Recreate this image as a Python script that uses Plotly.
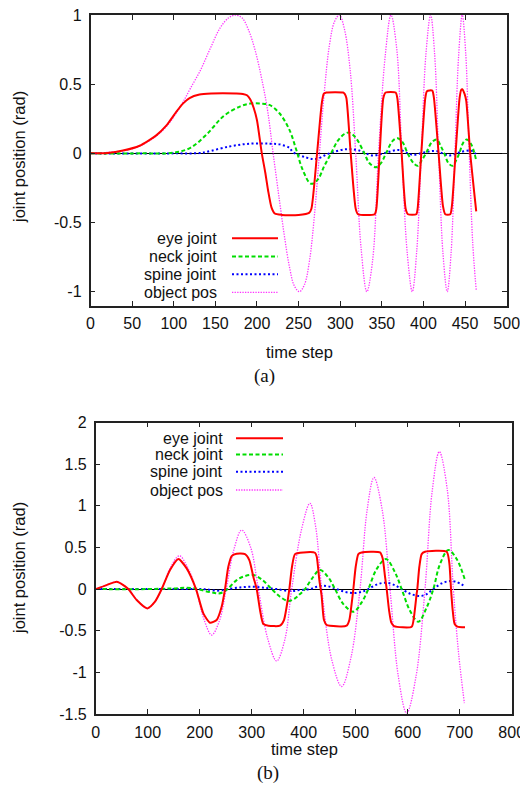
import plotly.graph_objects as go

# ---- panel (a) ----
t_eye_a = [0, 20, 39, 59, 79, 91, 103, 111, 119, 131, 145, 159, 175, 183, 188, 192, 196, 200, 205.8, 210, 213.4, 217.4, 221.4, 230, 239.4,
           250, 262.6, 265.4, 272.2, 277.8, 280.2, 283.4, 303.4, 305.4, 307.4, 312.6, 318.6, 321.4, 341.4,
           343.4, 347.4, 351.8, 354.6, 366.6, 368.6, 373.8, 378.6, 381.4, 391.4, 393, 397.4, 402.2, 404.2,
           410.6, 412.6, 418.2, 423.4, 426.2, 432.2, 434.2, 438.6, 443.4, 445.4, 446.6, 449.4, 451.4, 456.2, 463.4]
eye_a = [0, 0.003, 0.02, 0.055, 0.13, 0.2, 0.3, 0.36, 0.4, 0.425, 0.433, 0.435, 0.433, 0.43, 0.42, 0.39, 0.33, 0.24, 0.0, -0.14, -0.27, -0.39, -0.435, -0.445, -0.447,
         -0.445, -0.43, -0.4, 0.0, 0.36, 0.43, 0.44, 0.44, 0.43, 0.4, 0.0, -0.4, -0.44, -0.44,
         -0.4, 0.0, 0.4, 0.44, 0.44, 0.4, 0.0, -0.4, -0.44, -0.44, -0.4, 0.0, 0.4, 0.45,
         0.454, 0.4, 0.0, -0.38, -0.44, -0.44, -0.38, 0.0, 0.4, 0.46, 0.464, 0.43, 0.38, 0.0, -0.42]

t_neck_a = [0, 60, 100, 120, 140, 160, 180, 192, 205, 215, 227, 239, 247, 255, 265, 273, 281, 289, 297, 305, 311, 319,
            329, 335, 343, 349, 355, 363, 369, 375, 381, 388, 393, 398, 403, 410, 416, 421, 425, 430, 435, 440,
            443, 448, 452, 457, 463]
neck_a = [0, 0, 0.005, 0.04, 0.14, 0.27, 0.34, 0.36, 0.36, 0.35, 0.29, 0.17, 0.03, -0.12, -0.22, -0.19, -0.09, 0, 0.09, 0.14, 0.15, 0.11,
          0, -0.07, -0.1, -0.07, 0, 0.09, 0.11, 0.08, 0, -0.07, -0.09, -0.05, 0, 0.08, 0.1, 0.05, 0, -0.07, -0.09, -0.04,
          0, 0.08, 0.1, 0.07, -0.04]

t_spine_a = [0, 100, 131, 139, 167, 191, 215, 227, 239, 243, 259, 271, 287, 307, 323, 339, 355, 371, 387, 403, 415,
             431, 445, 457, 463]
spine_a = [0, 0, 0.002, 0.01, 0.05, 0.07, 0.07, 0.065, 0.04, 0.01, -0.03, -0.04, 0, 0.03, 0.02, -0.015, 0.005, 0.025, -0.01, 0.01, 0.017,
           -0.015, 0.01, 0.02, -0.005]

t_obj_a = [0, 40, 60, 80, 92, 104, 112, 120, 132, 144, 156, 166, 174, 182, 190, 198, 206, 213, 219.4, 227, 233, 239, 245, 251,
           257, 263, 269, 275, 281, 287, 293, 299, 305, 312, 318.6, 325, 332, 339, 346, 354, 361, 368, 374, 380.5,
           386.6, 392, 397.4, 403, 408.6, 413.4, 418.2, 423.4, 428.6, 433.2, 437.8, 442.2, 446.6, 450.8, 455, 459.2, 463.4]
obj_a = [0, 0.02, 0.055, 0.13, 0.2, 0.3, 0.38, 0.47, 0.6, 0.76, 0.91, 0.98, 1.0, 0.98, 0.89, 0.74, 0.53, 0.3, 0, -0.34, -0.6, -0.82, -0.96, -1.0,
         -0.95, -0.78, -0.45, 0, 0.45, 0.78, 0.95, 1.0, 0.9, 0.6, 0, -0.68, -1.0, -0.77, 0, 0.7, 1.0, 0.75, 0, -0.72,
         -1.0, -0.7, 0, 0.72, 1.0, 0.72, 0, -0.72, -1.0, -0.72, 0, 0.7, 1.0, 0.72, 0, -0.65, -0.99]

# ---- panel (b) ----
t_eye_b = [0, 21.1, 40.3, 53.1, 62.8, 78.8, 99.3, 114, 126.9, 142.9, 158.9, 174.9, 192.9, 207, 219.8, 232.6, 242.2,
           248.7, 255, 261.5, 271.1, 287.1, 295.4, 303.1, 309.6, 316, 322.4, 332, 354.4, 362.1, 367.2, 372.4,
           377.5, 383.3, 399.3, 421.7, 425, 430.1, 434.6, 439, 444.2, 450.6, 482.6, 487.8, 492.3, 495.5, 500,
           505.1, 511.5, 546.7, 551.9, 556.4, 559.6, 564.1, 568.5, 573.7, 607.6, 612.1, 617.3, 618.5, 622.4,
           626.9, 633.3, 675, 680.1, 683.3, 686.5, 690.3, 695.5, 710.2]
eye_b = [0, 0.048, 0.088, 0.048, 0, -0.132, -0.232, -0.152, 0, 0.228, 0.36, 0.248, 0, -0.292, -0.404, -0.372, -0.212,
         0, 0.268, 0.396, 0.424, 0.42, 0.348, 0.148, 0, -0.252, -0.42, -0.44, -0.44, -0.372, -0.212, 0,
         0.268, 0.42, 0.44, 0.436, 0.39, 0.108, -0.09, -0.372, -0.432, -0.44, -0.44, -0.372, -0.172, 0, 0.268,
         0.42, 0.44, 0.44, 0.368, 0.148, 0, -0.252, -0.404, -0.444, -0.452, -0.332, -0.052, 0, 0.268,
         0.42, 0.448, 0.448, 0.308, 0, -0.252, -0.42, -0.452, -0.46]

t_neck_b = [0, 100, 149.4, 174.9, 194.2, 210.2, 226.2, 235.8, 245.5, 255, 271.1, 287.1, 303.1, 319.2, 338.4, 354.4,
            370.4, 383.3, 392.9, 402.5, 415.3, 431.4, 447.4, 460.2, 476.2, 495.5, 511.5, 524.3, 540.3, 558.3,
            575.6, 588.4, 604.4, 620.5, 636.5, 649.3, 662.1, 678.2, 694.2, 710.2]
neck_b = [0, 0, 0.008, 0.016, 0.004, -0.024, -0.044, -0.052, -0.036, 0.008, 0.108, 0.156, 0.168, 0.116, 0, -0.092,
          -0.144, -0.112, -0.06, 0, 0.12, 0.228, 0.14, 0, -0.18, -0.272, -0.16, 0, 0.24, 0.36,
          0.2, 0, -0.26, -0.392, -0.22, 0, 0.3, 0.468, 0.36, 0.108]

t_spine_b = [0, 200, 213.4, 232.6, 245.5, 255, 277.5, 303.1, 328.7, 348, 373.6, 392.9, 412.1, 424.9, 437.8, 450.6,
             463.4, 479.4, 495.5, 511.5, 524.3, 540.3, 556.4, 572.4, 588.4, 606.4, 623.7, 636.5, 649.3, 665.3,
             681.4, 694.2, 707]
spine_b = [0, 0, -0.004, -0.02, -0.012, 0, 0.02, 0.028, 0.012, 0, -0.024, -0.012, 0, 0.028, 0.04, 0.028,
           0, -0.034, -0.048, -0.034, 0, 0.054, 0.076, 0.054, 0, -0.06, -0.084, -0.06, 0, 0.068,
           0.096, 0.085, 0.044]

t_obj_b = [0, 21, 40, 53, 63, 79, 99, 114, 127, 143, 160.8, 176, 193, 208, 223, 238, 251, 266, 280.7, 298, 312.8,
           331, 348, 364, 376.9, 396, 412, 423, 434.6, 454, 473, 491, 508.3, 522, 535.2, 551, 566, 582, 598,
           616, 633.3, 647, 660.8, 676, 687.8, 698, 709]
obj_b = [0, 0.048, 0.088, 0.048, 0, -0.13, -0.232, -0.15, 0, 0.25, 0.4, 0.27, 0, -0.36, -0.552, -0.38, 0, 0.48, 0.708, 0.5, 0,
         -0.6, -0.864, -0.6, 0, 0.72, 1.03, 0.75, 0, -0.85, -1.17, -0.82, 0, 0.95, 1.34, 0.95, 0, -1.05, -1.49,
         -1.05, 0, 1.17, 1.65, 1.2, 0, -0.78, -1.37]

names = ["eye joint", "neck joint", "spine joint", "object pos"]
colors = ["#ff0000", "#00dd00", "#0000ff", "#ff33ff"]
dashes = ["solid", "4px,2.5px", "2px,2.5px", "1.3px,1.3px"]
widths = [2, 2, 2, 1.3]
smooth = [0.6, 1.0, 1.0, 1.0]

series_a = [(t_eye_a, eye_a), (t_neck_a, neck_a), (t_spine_a, spine_a), (t_obj_a, obj_a)]
series_b = [(t_eye_b, eye_b), (t_neck_b, neck_b), (t_spine_b, spine_b), (t_obj_b, obj_b)]

W, H = 528, 790
OFF = 8  # page body margin pushes the figure 8px right and down


def fx(p):
    return (p - OFF) / W


def fy(p):
    return 1 - (p - OFF) / H


fig = go.Figure()
# draw order: object pos behind, eye on top
for i in [3, 2, 1, 0]:
    for (t, v), xa, ya in [(series_a[i], "x", "y"), (series_b[i], "x2", "y2")]:
        fig.add_trace(go.Scatter(
            x=t, y=v, mode="lines", name=names[i], xaxis=xa, yaxis=ya,
            line=dict(color=colors[i], width=widths[i], dash=dashes[i], shape="spline", smoothing=smooth[i]),
            showlegend=False, hoverinfo="skip",
        ))

sans = "Liberation Sans, Arial, sans-serif"
font = dict(family=sans, size=16, color="#111")
axis_common = dict(
    showgrid=False, ticks="inside", ticklen=5, tickwidth=1, tickcolor="#222",
    showline=True, linecolor="#222", linewidth=1.5, mirror="allticks",
    tickfont=font, automargin=False, ticklabeloverflow="allow",
)

ya_vals = [-1, -0.5, 0, 0.5, 1]
yb_vals = [-1.5, -1, -0.5, 0, 0.5, 1, 1.5, 2]

fig.update_layout(
    width=W, height=H,
    margin=dict(l=0, r=0, t=0, b=0, pad=0),
    plot_bgcolor="white", paper_bgcolor="white",
    font=font,
    xaxis=dict(axis_common, domain=[fx(90.5), fx(506.7)], range=[0, 500.01], tickvals=list(range(0, 501, 50)),
               anchor="y", zeroline=False, ticklabelstandoff=3),
    yaxis=dict(axis_common, domain=[fy(305.5), fy(15)], range=[-1.1, 1.0005], tickvals=ya_vals,
               ticktext=[("%g" % v) for v in ya_vals], anchor="x", ticklabelstandoff=4,
               zeroline=True, zerolinecolor="black", zerolinewidth=1.2),
    xaxis2=dict(axis_common, domain=[fx(95.7), fx(511.7)], range=[0, 800.01], tickvals=list(range(0, 801, 100)),
                anchor="y2", zeroline=False, ticklabelstandoff=3),
    yaxis2=dict(axis_common, domain=[fy(714), fy(422.5)], range=[-1.5005, 2.0005], tickvals=yb_vals,
                ticktext=[("%g" % v) for v in yb_vals], anchor="x2", ticklabelstandoff=4,
                zeroline=True, zerolinecolor="black", zerolinewidth=1.2),
)

ann = []
shapes = []
# axis titles and captions
for cx, cy, txt in [(299, 352, "time step"), (304, 749, "time step")]:
    ann.append(dict(x=fx(cx), y=fy(cy), xref="paper", yref="paper", text=txt, showarrow=False,
                    font=dict(font, size=16.5), xanchor="center", yanchor="middle"))
for cy in [157, 568]:
    ann.append(dict(x=fx(19), y=fy(cy), xref="paper", yref="paper", text="joint position (rad)", showarrow=False,
                    textangle=-90, font=dict(font, size=16.5), xanchor="center", yanchor="middle"))
for cx, cy, txt in [(264, 376, "(a)"), (268, 773, "(b)")]:
    ann.append(dict(x=fx(cx), y=fy(cy), xref="paper", yref="paper", text=txt, showarrow=False,
                    font=dict(family="Liberation Serif, Times New Roman, serif", size=19, color="#111"),
                    xanchor="center", yanchor="middle"))

# gnuplot-style keys: label on the left, line sample on the right
for text_right, x0, x1, rows in [(219, 232, 278, [238.3, 256.5, 274.2, 292.3]),
                                 (225, 236, 283, [438.3, 454.5, 471.7, 490])]:
    for i, ry in enumerate(rows):
        ann.append(dict(x=fx(text_right), y=fy(ry), xref="paper", yref="paper", text=names[i], showarrow=False,
                        font=dict(font, size=16), xanchor="right", yanchor="middle"))
        shapes.append(dict(type="line", xref="paper", yref="paper", x0=fx(x0), x1=fx(x1), y0=fy(ry), y1=fy(ry),
                           line=dict(color=colors[i], width=widths[i], dash=dashes[i])))

fig.update_layout(annotations=ann, shapes=shapes)

fig.write_html("out.html")
